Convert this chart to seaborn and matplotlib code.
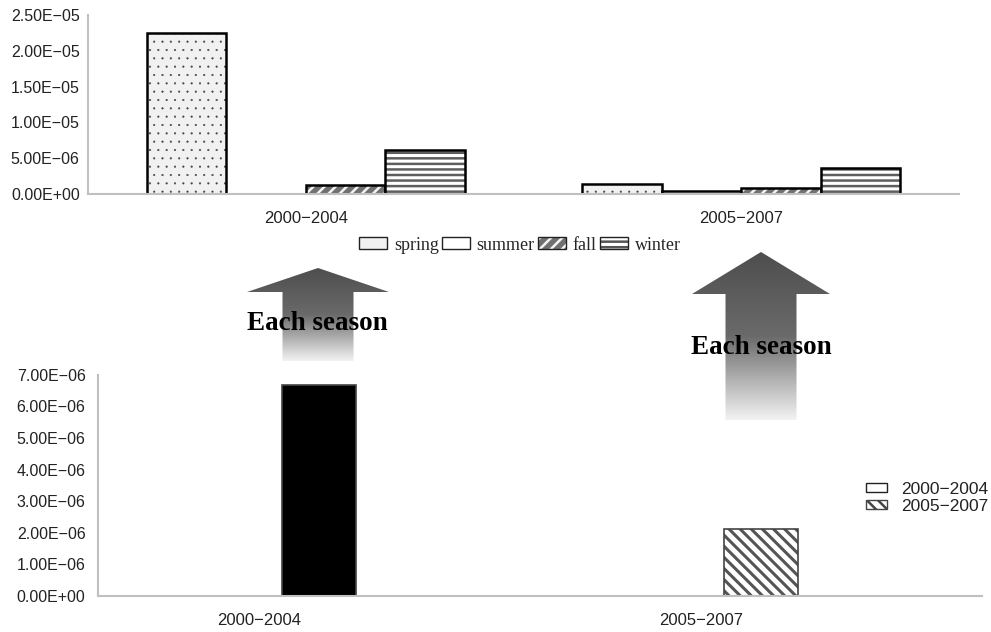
import numpy as np
import pandas as pd
import matplotlib
matplotlib.use("Agg")
from matplotlib import pyplot as plt
from matplotlib import colors as mcolors
from matplotlib import patches as mpatches
from matplotlib.transforms import ScaledTranslation
from matplotlib.ticker import FuncFormatter
import seaborn as sns

# ---------------- data ----------------
periods = ["2000-2004", "2005-2007"]
seasons = ["spring", "summer", "fall", "winter"]
spring = [2.24e-5, 1.5e-6]
summer = [0.0, 0.45e-6]
fall = [1.35e-6, 0.9e-6]
winter = [6.1e-6, 3.6e-6]
total = [6.67e-6, 2.11e-6]

season_face = {"spring": "#f1f1f1", "summer": "#ffffff", "fall": "#707070", "winter": "#ffffff"}
season_hatch = {"spring": "..", "summer": None, "fall": "///", "winter": "---"}
season_hcol = {"spring": "#444444", "summer": "black", "fall": "#f4f4f4", "winter": "#5e5e5e"}

sns.set_style("white")
plt.rcParams["font.family"] = ["Liberation Sans", "DejaVu Sans"]
plt.rcParams["hatch.linewidth"] = 1.8

fig = plt.figure(figsize=(9.91, 6.32), dpi=100)
ax1 = fig.add_axes([88 / 991, 1 - 194.3 / 632, 871 / 991, 179.6 / 632])
ax2 = fig.add_axes([98 / 991, 1 - 596 / 632, 884 / 991, 221.3 / 632])

df = pd.DataFrame({
    "period": periods * 4,
    "season": [s for s in seasons for _ in periods],
    "value": spring + summer + fall + winter,
})

# ---------------- top: each season ----------------
sns.barplot(data=df, x="period", y="value", hue="season", hue_order=seasons,
            palette=season_face, width=0.73, edgecolor="black", linewidth=1.8,
            errorbar=None, legend=False, ax=ax1)
for s, cont in zip(seasons, ax1.containers):
    for bar in cont:
        if bar.get_height() == 0:
            bar.set_visible(False)
        if season_hatch[s]:
            bar.set_hatch(season_hatch[s])
            bar._hatch_color = mcolors.to_rgba(season_hcol[s])
            if s == "spring":
                bar._hatch_linewidth = 0.3

fmt = FuncFormatter(lambda v, p: f"{v:.2E}".replace("-", "\u2212"))
ax1.set_ylim(0, 2.5e-5)
ax1.set_yticks(np.arange(0, 2.51e-5, 5e-6))
ax1.yaxis.set_major_formatter(fmt)
ax1.set_xlim(-0.5, 1.5)
ax1.set_xticks([0, 1])
ax1.set_xticklabels([p.replace("-", "\u2212") for p in periods])
ax1.set_xticks([0.5, 1.5], minor=True)
ax1.set_xlabel("")
ax1.set_ylabel("")
ax1.tick_params(axis="y", direction="out", length=4, width=1.2, color="#c0c0c0",
                labelsize=11.5, labelcolor="#222222", pad=2)
ax1.tick_params(axis="x", which="major", length=0, labelsize=12, labelcolor="#222222", pad=12)
ax1.tick_params(axis="x", which="minor", direction="in", length=4, width=1.2, color="#c0c0c0")

# ---------------- bottom: totals ----------------
sns.barplot(x=periods, y=total, hue=periods, palette=["black", "white"], width=0.167,
            edgecolor="#444444", linewidth=1.2, errorbar=None, legend=False, ax=ax2)
for bar in ax2.containers[1]:
    bar.set_hatch("\\\\\\")
    bar._hatch_color = mcolors.to_rgba("#555555")
    bar._hatch_linewidth = 2.2

ax2.set_ylim(0, 7e-6)
ax2.set_yticks(np.arange(0, 7.01e-6, 1e-6))
ax2.yaxis.set_major_formatter(fmt)
ax2.set_xlim(-0.5, 1.5)
ax2.set_xticks([0, 1])
ax2.set_xticklabels([p.replace("-", "\u2212") for p in periods])
ax2.set_xticks([0.5, 1.5], minor=True)
ax2.tick_params(axis="y", direction="in", length=8, width=1.2, color="#c0c0c0",
                labelsize=11.5, labelcolor="#222222", pad=9)
ax2.tick_params(axis="x", which="major", length=0, labelsize=12, labelcolor="#222222", pad=12)
ax2.tick_params(axis="x", which="minor", direction="in", length=4, width=1.2, color="#c0c0c0")
for lab in ax2.get_xticklabels():
    lab.set_transform(lab.get_transform() + ScaledTranslation(-0.6, 0, fig.dpi_scale_trans))

for ax in (ax1, ax2):
    sns.despine(ax=ax)
    for side in ("left", "bottom"):
        ax.spines[side].set_color("#c0c0c0")
        ax.spines[side].set_linewidth(1.5)

# ---------------- legends ----------------
h_top = []
for s in seasons:
    p = mpatches.Patch(facecolor=season_face[s], edgecolor="#222222", linewidth=1.0,
                       hatch=season_hatch[s] if s in ("fall", "winter") else None, label=s)
    p._hatch_color = mcolors.to_rgba("#555555" if s == "winter" else season_hcol[s])
    h_top.append(p)
fig.legend(handles=h_top, loc="center", bbox_to_anchor=(520 / 991, 1 - 245 / 632), ncol=4,
           frameon=False, prop={"family": "Liberation Serif", "size": 13},
           handlelength=1.55, handleheight=0.67, handletextpad=0.35, columnspacing=0.2,
           borderpad=0, borderaxespad=0)

p1 = mpatches.Patch(facecolor="white", edgecolor="#222222", linewidth=1.0, label=periods[0])
p2 = mpatches.Patch(facecolor="white", edgecolor="#444444", linewidth=1.0, hatch="\\\\\\",
                    label=periods[1])
p2._hatch_color = mcolors.to_rgba("#444444")
leg2 = fig.legend(handles=[p1, p2], loc="center left", bbox_to_anchor=(866 / 991, 1 - 498 / 632),
                  frameon=False, fontsize=12.5, handlelength=1.2, handleheight=0.42,
                  handletextpad=0.8, labelspacing=0.1, borderpad=0, borderaxespad=0)
for t in leg2.get_texts():
    t.set_text(t.get_text().replace("-", "\u2212"))
    t.set_color("#222222")

# ---------------- gradient arrows ----------------
ov = fig.add_axes([0, 0, 1, 1], zorder=5)
ov.patch.set_alpha(0)
cmap = mcolors.LinearSegmentedColormap.from_list("g", ["#4e4e4e", "#6a6a6a", "#f2f2f2"])


def gradient_arrow(tip_x, tip_y, head_y, head_hw, shaft_hw, bottom_y):
    pts = [(tip_x, tip_y), (tip_x + head_hw, head_y), (tip_x + shaft_hw, head_y),
           (tip_x + shaft_hw, bottom_y), (tip_x - shaft_hw, bottom_y),
           (tip_x - shaft_hw, head_y), (tip_x - head_hw, head_y)]
    poly = mpatches.Polygon(pts, closed=True, facecolor="none", edgecolor="none")
    ov.add_patch(poly)
    grad = np.linspace(0, 1, 200).reshape(-1, 1)
    im = ov.imshow(grad, cmap=cmap, aspect="auto", interpolation="bilinear",
                   extent=[tip_x - head_hw, tip_x + head_hw, bottom_y, tip_y])
    im.set_clip_path(poly)


gradient_arrow(318, 268, 292, 71, 35.5, 361)
gradient_arrow(761, 252, 294, 69, 35.5, 420)
ov.set_xlim(0, 991)
ov.set_ylim(632, 0)
ov.axis("off")
for x, y in [(317, 323), (761, 347)]:
    ov.text(x, y, "Each season", ha="center", va="center", fontsize=19.5, fontweight="bold",
            family="Liberation Serif", color="black")

fig.savefig("out.png", dpi=100)
